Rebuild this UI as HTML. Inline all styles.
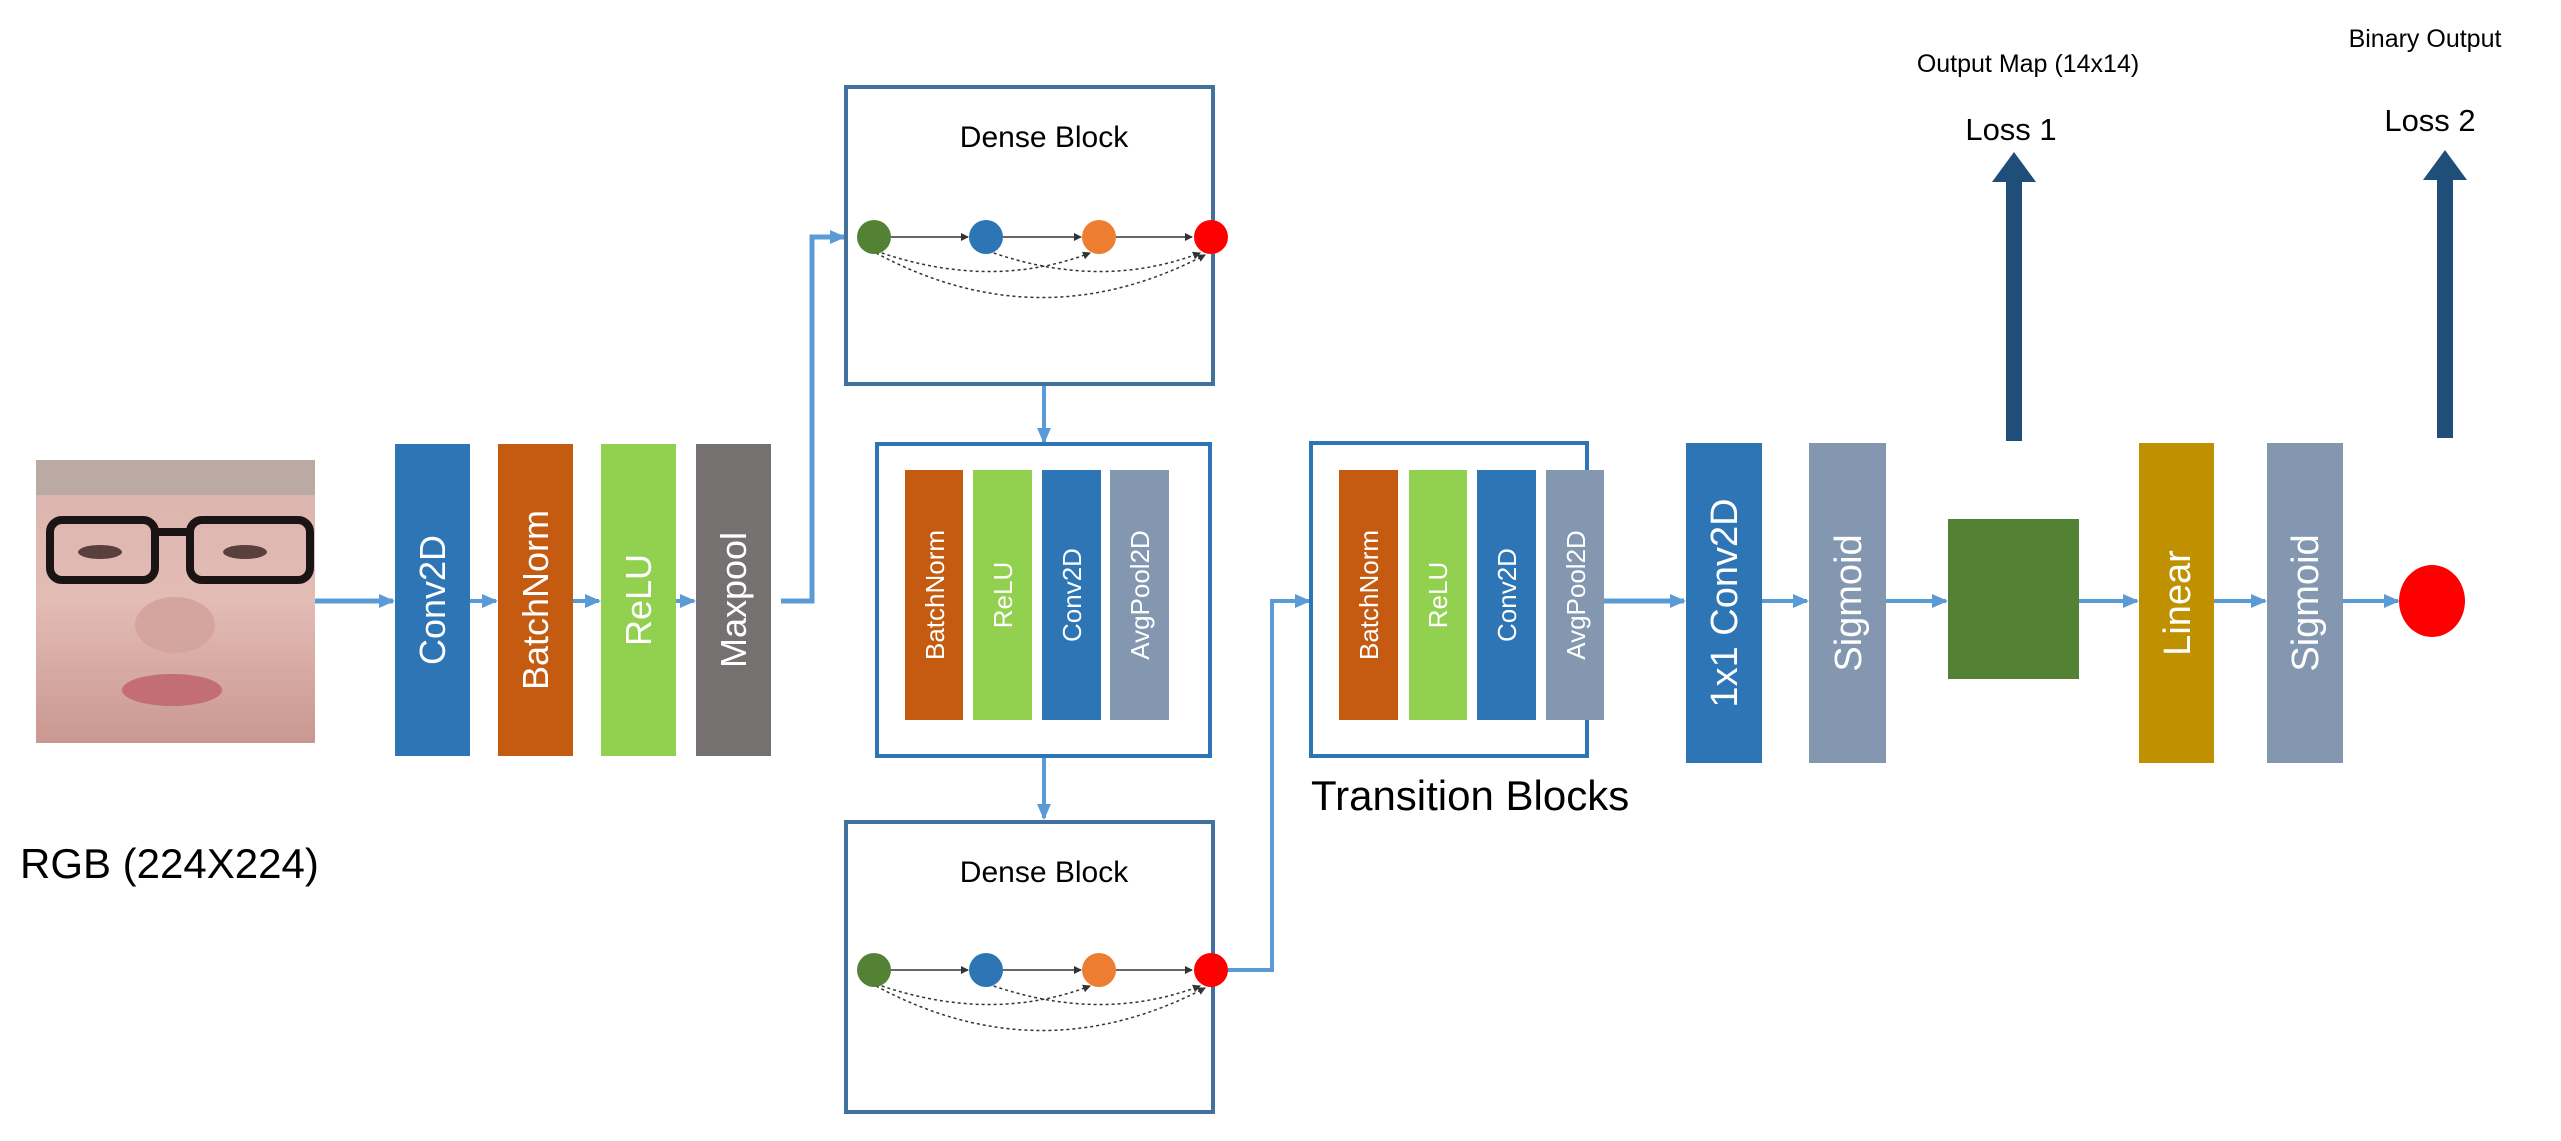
<!DOCTYPE html>
<html><head><meta charset="utf-8"><style>
html,body{margin:0;padding:0;background:#fff;}
svg{display:block;}
text{font-family:"Liberation Sans",sans-serif;}
</style></head><body>
<svg width="2561" height="1141" viewBox="0 0 2561 1141" xmlns="http://www.w3.org/2000/svg">
<defs>
<marker id="ah" markerWidth="16" markerHeight="16" refX="14" refY="8" orient="auto" markerUnits="userSpaceOnUse"><path d="M0,1 L16,8 L0,15 z" fill="#5B9BD5"/></marker>
<marker id="sm" markerWidth="8" markerHeight="8" refX="7" refY="4" orient="auto" markerUnits="userSpaceOnUse"><path d="M0,0 L8,4 L0,8 z" fill="#333"/></marker>
<linearGradient id="skin" x1="0" y1="0" x2="0" y2="1"><stop offset="0" stop-color="#d9b3ad"/><stop offset="0.5" stop-color="#e3bcb5"/><stop offset="1" stop-color="#c99790"/></linearGradient>
</defs>

<rect x="36" y="460" width="279" height="283" fill="url(#skin)"/>
<rect x="36" y="460" width="279" height="35" fill="#bba9a3"/>
<rect x="50" y="520" width="105" height="60" rx="12" fill="none" stroke="#1a1414" stroke-width="8"/>
<rect x="190" y="520" width="120" height="60" rx="12" fill="none" stroke="#1a1414" stroke-width="8"/>
<rect x="155" y="528" width="35" height="8" fill="#1a1414"/>
<ellipse cx="100" cy="552" rx="22" ry="7" fill="#5a403c"/>
<ellipse cx="245" cy="552" rx="22" ry="7" fill="#5a403c"/>
<ellipse cx="175" cy="625" rx="40" ry="28" fill="#d4a59e"/>
<ellipse cx="172" cy="690" rx="50" ry="16" fill="#c26e72"/>
<text x="20" y="878" font-size="42" fill="#000">RGB (224X224)</text>

<g stroke="#5B9BD5" stroke-width="5" fill="none">
<line x1="315" y1="601" x2="393" y2="601" marker-end="url(#ah)"/>
<line x1="470" y1="601" x2="496" y2="601" marker-end="url(#ah)" stroke-width="4"/>
<line x1="573" y1="601" x2="599" y2="601" marker-end="url(#ah)" stroke-width="4"/>
<line x1="676" y1="601" x2="694" y2="601" marker-end="url(#ah)" stroke-width="4"/>
<polyline points="781,601 812,601 812,237 844,237" marker-end="url(#ah)"/>
<line x1="1044" y1="384" x2="1044" y2="442" marker-end="url(#ah)" stroke-width="4"/>
<line x1="1044" y1="756" x2="1044" y2="818" marker-end="url(#ah)" stroke-width="4"/>
<polyline points="1213,970 1272,970 1272,601 1309,601" marker-end="url(#ah)" stroke-width="4"/>
<line x1="1587" y1="601" x2="1684" y2="601" marker-end="url(#ah)"/>
<line x1="1762" y1="601" x2="1807" y2="601" marker-end="url(#ah)" stroke-width="4"/>
<line x1="1886" y1="601" x2="1946" y2="601" marker-end="url(#ah)" stroke-width="4"/>
<line x1="2079" y1="601" x2="2137" y2="601" marker-end="url(#ah)" stroke-width="4"/>
<line x1="2214" y1="601" x2="2265" y2="601" marker-end="url(#ah)" stroke-width="4"/>
<line x1="2343" y1="601" x2="2398" y2="601" marker-end="url(#ah)" stroke-width="4"/>
</g>

<rect x="395" y="444" width="75" height="312" fill="#2E75B6"/>
<rect x="498" y="444" width="75" height="312" fill="#C55A11"/>
<rect x="601" y="444" width="75" height="312" fill="#92D050"/>
<rect x="696" y="444" width="75" height="312" fill="#767171"/>
<g fill="#fff" font-size="36" text-anchor="middle">
<text transform="translate(445,600) rotate(-90)">Conv2D</text>
<text transform="translate(548,600) rotate(-90)">BatchNorm</text>
<text transform="translate(651,600) rotate(-90)">ReLU</text>
<text transform="translate(746,600) rotate(-90)">Maxpool</text>
</g>

<rect x="846" y="87" width="367" height="297" fill="#fff" stroke="#41719C" stroke-width="4"/>
<rect x="846" y="822" width="367" height="290" fill="#fff" stroke="#41719C" stroke-width="4"/>
<g font-size="30" text-anchor="middle" fill="#000">
<text x="1044" y="147">Dense Block</text>
<text x="1044" y="882">Dense Block</text>
</g>
<g id="nodes1">
<g stroke="#333" stroke-width="1.5" fill="none">
<line x1="890" y1="237" x2="968" y2="237" marker-end="url(#sm)"/>
<line x1="1002" y1="237" x2="1081" y2="237" marker-end="url(#sm)"/>
<line x1="1115" y1="237" x2="1192" y2="237" marker-end="url(#sm)"/>
<path d="M876,251 Q990,291 1090,253" stroke-dasharray="3,3" marker-end="url(#sm)"/>
<path d="M988,251 Q1100,291 1200,253" stroke-dasharray="3,3" marker-end="url(#sm)"/>
<path d="M876,253 Q1040,341 1205,255" stroke-dasharray="3,3" marker-end="url(#sm)"/>
</g>
<circle cx="874" cy="237" r="17" fill="#548235"/>
<circle cx="986" cy="237" r="17" fill="#2E75B6"/>
<circle cx="1099" cy="237" r="17" fill="#ED7D31"/>
<circle cx="1211" cy="237" r="17" fill="#FF0000"/>
</g>
<use href="#nodes1" transform="translate(0,733)"/>

<rect x="877" y="444" width="333" height="312" fill="#fff" stroke="#2E75B6" stroke-width="4"/>
<rect x="905" y="470" width="58" height="250" fill="#C55A11"/>
<rect x="973" y="470" width="59" height="250" fill="#92D050"/>
<rect x="1042" y="470" width="59" height="250" fill="#2E75B6"/>
<rect x="1110" y="470" width="59" height="250" fill="#8497B0"/>
<g fill="#fff" font-size="26" text-anchor="middle">
<text transform="translate(944,595) rotate(-90)">BatchNorm</text>
<text transform="translate(1012,595) rotate(-90)">ReLU</text>
<text transform="translate(1081,595) rotate(-90)">Conv2D</text>
<text transform="translate(1149,595) rotate(-90)">AvgPool2D</text>
</g>

<rect x="1311" y="443" width="276" height="313" fill="#fff" stroke="#2E75B6" stroke-width="4"/>
<rect x="1339" y="470" width="59" height="250" fill="#C55A11"/>
<rect x="1409" y="470" width="58" height="250" fill="#92D050"/>
<rect x="1477" y="470" width="59" height="250" fill="#2E75B6"/>
<rect x="1546" y="470" width="58" height="250" fill="#8497B0"/>
<g fill="#fff" font-size="26" text-anchor="middle">
<text transform="translate(1378,595) rotate(-90)">BatchNorm</text>
<text transform="translate(1447,595) rotate(-90)">ReLU</text>
<text transform="translate(1516,595) rotate(-90)">Conv2D</text>
<text transform="translate(1585,595) rotate(-90)">AvgPool2D</text>
</g>
<text x="1311" y="810" font-size="42" fill="#000">Transition Blocks</text>

<rect x="1686" y="443" width="76" height="320" fill="#2E75B6"/>
<rect x="1809" y="443" width="77" height="320" fill="#8497B0"/>
<rect x="1948" y="519" width="131" height="160" fill="#548235"/>
<rect x="2139" y="443" width="75" height="320" fill="#BF9000"/>
<rect x="2267" y="443" width="76" height="320" fill="#8497B0"/>
<ellipse cx="2432" cy="601" rx="33" ry="36" fill="#FF0000"/>
<g fill="#fff" font-size="38" text-anchor="middle">
<text transform="translate(1737,603) rotate(-90)">1x1 Conv2D</text>
<text transform="translate(1861,603) rotate(-90)">Sigmoid</text>
<text transform="translate(2190,603) rotate(-90)">Linear</text>
<text transform="translate(2318,603) rotate(-90)">Sigmoid</text>
</g>

<rect x="2006" y="180" width="16" height="261" fill="#1F4E79"/>
<path d="M1992,182 L2014,152 L2036,182 z" fill="#1F4E79"/>
<rect x="2437" y="178" width="16" height="260" fill="#1F4E79"/>
<path d="M2423,180 L2445,150 L2467,180 z" fill="#1F4E79"/>
<g font-size="25" text-anchor="middle" fill="#000">
<text x="2028" y="72">Output Map (14x14)</text>
<text x="2425" y="47">Binary Output</text>
</g>
<g font-size="31" text-anchor="middle" fill="#000">
<text x="2011" y="140">Loss 1</text>
<text x="2430" y="131">Loss 2</text>
</g>
</svg>
</body></html>
